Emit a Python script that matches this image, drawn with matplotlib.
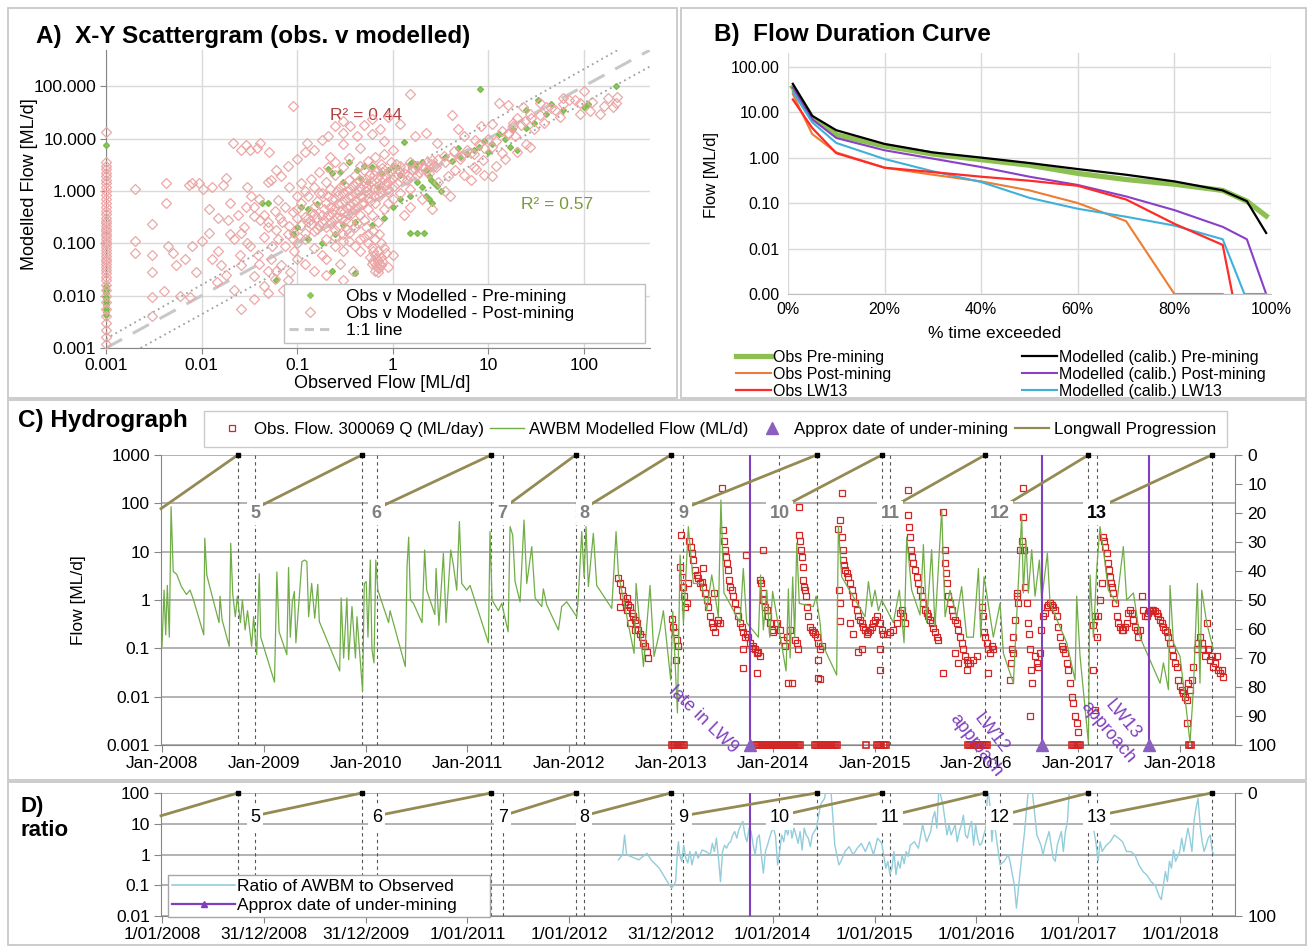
#!/usr/bin/env python3
"""Four-panel AWBM calibration figure: scatter, flow duration, hydrograph, ratio."""

import matplotlib
matplotlib.use("Agg")
import matplotlib.pyplot as plt
import numpy as np
from matplotlib.lines import Line2D
from matplotlib.patches import Rectangle
from matplotlib.ticker import NullLocator

plt.rcParams["font.family"] = ["Liberation Sans", "DejaVu Sans"]

# ---------------- A) scattergram data (ML/d) ----------------
# modelled flow on days with zero observed flow (drawn at obs = 0.001)
zero_obs_post_mod = [13.5, 3.5, 3.0, 2.6, 2.2, 1.9, 1.6, 1.4, 1.2, 1.0, 0.85, 0.7, 0.6, 0.5,
                     0.42, 0.36, 0.3, 0.27, 0.24, 0.21, 0.19, 0.17, 0.15, 0.135, 0.12, 0.105,
                     0.095, 0.085, 0.075, 0.066, 0.058, 0.051, 0.045, 0.04, 0.035, 0.031, 0.027,
                     0.023, 0.02, 0.016, 0.013, 0.01, 0.0075, 0.0055, 0.004, 0.003, 0.0022,
                     0.0016, 0.0012]
zero_obs_pre_mod = [7.5, 0.015, 0.013, 0.011, 0.0095, 0.0085, 0.0075, 0.0065, 0.0055, 0.0048,
                    0.0042]
scatter_post = [
    (0.002, 1.1), (0.002, 0.11), (0.002, 0.065), (0.003, 0.23), (0.003, 0.06), (0.003, 0.028),
    (0.003, 0.0095), (0.003, 0.004), (0.0042, 1.4), (0.0042, 0.6), (0.005, 0.065),
    (0.0054, 0.038), (0.006, 0.01), (0.0067, 0.05), (0.0073, 1.3), (0.008, 1.4), (0.008, 0.09),
    (0.0087, 0.028), (0.0095, 1.4), (0.01, 0.11), (0.0103, 1.1), (0.0075, 0.0095),
    (0.0045, 0.09), (0.004, 0.012), (0.013, 1.2), (0.0166, 1.3), (0.018, 1.8), (0.012, 0.16),
    (0.013, 0.05), (0.0145, 0.018), (0.016, 0.038), (0.019, 0.28), (0.0215, 8.2), (0.022, 0.12),
    (0.026, 6.1), (0.029, 7.5), (0.032, 6.1), (0.038, 6.5), (0.041, 8.2), (0.051, 5.6),
    (0.053, 1.6), (0.033, 0.8), (0.029, 0.5), (0.035, 0.33), (0.041, 0.28), (0.049, 0.2),
    (0.026, 0.16), (0.032, 0.088), (0.039, 0.06), (0.026, 0.038), (0.035, 0.024), (0.022, 0.013),
    (0.035, 0.0088), (0.026, 0.0056), (0.015, 0.07), (0.018, 0.025), (0.02, 0.6), (0.024, 0.35),
    (0.028, 0.2), (0.045, 0.13), (0.055, 0.09), (0.045, 0.015), (0.06, 0.03), (0.09, 41),
    (0.068, 1.9), (0.082, 1.2), (0.063, 0.68), (0.075, 0.5), (0.1, 0.45), (0.058, 0.42),
    (0.066, 0.3), (0.082, 0.21), (0.093, 0.16), (0.063, 0.12), (0.075, 0.088), (0.093, 0.07),
    (0.053, 0.05), (0.068, 0.038), (0.085, 0.028), (0.058, 0.021), (0.071, 0.013), (0.05, 0.011),
    (0.127, 8.2), (0.15, 6.1), (0.18, 9.5), (0.21, 11), (0.25, 17), (0.3, 13), (0.36, 17),
    (0.42, 11), (0.5, 18), (0.6, 24), (0.74, 15), (1.5, 72), (0.9, 26), (1.2, 19), (1.7, 11),
    (2.2, 13), (2.9, 8.2), (4.2, 28), (4.8, 15), (5.6, 11), (7.3, 9.5), (8.4, 17), (11, 19),
    (13, 47), (16, 44), (18, 17), (23, 40), (27, 30), (35, 47), (45, 38), (56, 26), (70, 54),
    (91, 47), (115, 33), (163, 41), (214, 47), (222, 63), (147, 30), (27, 7), (19, 11), (11, 7),
    (14, 5.3), (8.8, 3.9), (7, 2.9), (11, 1.9), (6.6, 5.3), (5.2, 4.6), (4.4, 5.7), (3.4, 4.6),
    (2.6, 3.9), (0.3, 8), (0.45, 6.5), (0.22, 4.5), (0.8, 9), (1.0, 6), (0.6, 12), (0.3, 22),
    (16, 12), (20, 25), (60, 60), (100, 80), (30, 15),
    (0.11, 0.6), (0.12, 0.32), (0.13, 0.25), (0.14, 0.4), (0.15, 0.5), (0.16, 0.3), (0.17, 0.22),
    (0.18, 0.35), (0.19, 0.45), (0.2, 0.6), (0.21, 0.8), (0.22, 0.5), (0.23, 0.38), (0.24, 0.28),
    (0.25, 0.7), (0.26, 1.0), (0.27, 0.55), (0.28, 0.42), (0.29, 0.3), (0.3, 0.9), (0.31, 1.3),
    (0.32, 0.65), (0.33, 0.48), (0.34, 0.36), (0.35, 1.6), (0.36, 1.1), (0.37, 0.8), (0.38, 0.6),
    (0.39, 0.45), (0.4, 2.0), (0.42, 1.4), (0.44, 1.0), (0.46, 0.75), (0.48, 0.55), (0.5, 2.5),
    (0.52, 1.7), (0.54, 1.2), (0.56, 0.9), (0.58, 0.65), (0.6, 3.0), (0.63, 2.0), (0.66, 1.5),
    (0.7, 1.1), (0.72, 0.8), (0.75, 3.3), (0.78, 2.3), (0.8, 1.7), (0.85, 1.3), (0.9, 0.95),
    (0.95, 3.5), (1.0, 2.6), (1.05, 1.9), (1.1, 1.4), (1.2, 3.0), (1.3, 2.2), (1.4, 1.6),
    (1.5, 3.5), (1.6, 2.5), (1.8, 2.0), (2.0, 3.0), (2.2, 2.4), (2.5, 3.3), (2.8, 2.8), (3.0, 4.0),
    (0.15, 1.2), (0.2, 1.5), (0.25, 2.0), (0.3, 2.8), (0.18, 0.9), (0.13, 0.8), (0.12, 1.0),
    (0.35, 0.25), (0.45, 0.35), (0.55, 0.45), (0.65, 0.6), (0.9, 0.6), (1.2, 0.9), (1.5, 1.1),
    (0.4, 0.2), (0.5, 0.28), (0.25, 0.18), (0.3, 0.15), (0.2, 0.2), (0.15, 0.17), (0.6, 0.35),
    (0.8, 0.45), (1.0, 0.7), (0.7, 0.25), (0.5, 0.13), (0.55, 0.1), (0.6, 0.085), (0.62, 0.07),
    (0.65, 0.06), (0.68, 0.05), (0.7, 0.045), (0.72, 0.04), (0.68, 0.035), (0.65, 0.03),
    (0.7, 0.028), (0.75, 0.038), (0.6, 0.04), (0.58, 0.055), (0.45, 0.07), (0.4, 0.09),
    (0.35, 0.11), (0.3, 0.07), (0.25, 0.09), (0.2, 0.05), (0.15, 0.08), (0.12, 0.12),
    (0.28, 0.04), (0.38, 0.03), (0.9, 0.035), (1.0, 0.06), (1.8, 3.0), (2.4, 2.2), (3.0, 1.5),
    (3.8, 1.9), (4.5, 2.5), (5.5, 2.0), (6.5, 1.6), (7.5, 2.6), (9, 2.0), (12, 3.0), (15, 4.0),
    (20, 5.5), (25, 8), (1.5, 0.5), (2.0, 0.7), (3.5, 1.0), (2.6, 0.45), (1.3, 0.35), (4, 0.8),
    (0.16, 0.65), (0.17, 0.9), (0.19, 0.28), (0.21, 0.35), (0.22, 1.1), (0.23, 0.7), (0.24, 0.45),
    (0.26, 0.32), (0.27, 0.85), (0.28, 1.2), (0.29, 0.6), (0.31, 0.4), (0.32, 0.28), (0.33, 1.0),
    (0.34, 0.75), (0.36, 0.52), (0.37, 0.38), (0.38, 1.3), (0.4, 0.95), (0.41, 0.68),
    (0.43, 0.5), (0.44, 1.6), (0.45, 1.2), (0.47, 0.85), (0.49, 0.62), (0.51, 1.4), (0.53, 1.0),
    (0.55, 0.72), (0.57, 2.0), (0.59, 1.5), (0.62, 1.1), (0.64, 0.8), (0.67, 2.4), (0.69, 1.8),
    (0.71, 1.3), (0.74, 0.95), (0.77, 2.7), (0.82, 2.0), (0.86, 1.5), (0.88, 1.1), (0.93, 2.3),
    (0.98, 1.7), (1.03, 1.25), (1.08, 3.2), (1.15, 2.4), (1.25, 1.8), (1.35, 2.7), (1.45, 2.0),
    (1.7, 2.6), (1.9, 2.3), (2.1, 2.8), (2.3, 3.6), (2.7, 3.0), (0.14, 0.23), (0.16, 0.19),
    (0.18, 0.26), (0.22, 0.24), (0.27, 0.21), (0.33, 0.19), (0.42, 0.24), (0.52, 0.2),
    (0.62, 0.17), (0.72, 0.15), (0.13, 0.3), (0.15, 0.36), (0.11, 0.22), (0.1, 0.3), (0.09, 0.4),
    (0.1, 0.8), (0.11, 1.4), (0.14, 1.7), (0.17, 2.3), (0.21, 2.9), (0.25, 3.5), (0.35, 4.2),
    (0.45, 3.0), (0.55, 3.8), (0.65, 4.4), (0.8, 5.0), (0.2, 0.12), (0.25, 0.13), (0.3, 0.11),
    (0.35, 0.16), (0.45, 0.12), (0.55, 0.15), (0.65, 0.12), (0.75, 0.1), (0.8, 0.08),
    (0.85, 0.065), (0.75, 0.055), (0.7, 0.07), (0.62, 0.045), (0.78, 0.045), (0.66, 0.038),
    (0.72, 0.033), (0.1, 0.1), (0.09, 0.12), (0.08, 0.15), (0.12, 0.16), (0.07, 0.25),
    (0.06, 0.18), (0.05, 0.25), (0.045, 0.35), (0.035, 0.5), (0.04, 0.7), (0.03, 1.2),
    (0.05, 1.5), (0.06, 2.5), (0.08, 3.0), (0.1, 4.0), (0.12, 5.5), (0.015, 0.3), (0.012, 0.45),
    (0.02, 0.15), (0.03, 0.1), (0.04, 0.04), (0.025, 0.06), (0.05, 0.03), (0.08, 0.02),
    (0.1, 0.05), (0.12, 0.04), (0.15, 0.03), (0.2, 0.025), (0.3, 0.02), (0.18, 0.06),
    (3.5, 3.5), (4, 4.2), (5, 4), (6, 6), (7, 5), (8, 8), (9, 6.5), (10, 10), (12, 9), (14, 14),
    (16, 13), (18, 20), (22, 18), (24, 22), (28, 25), (35, 28), (40, 40), (50, 35), (38, 20),
    (60, 45), (80, 55), (90, 30), (120, 50), (180, 60), (200, 40),
]
scatter_pre = [
    (0.043, 0.6), (0.05, 0.6), (0.11, 0.5), (0.13, 0.45), (0.16, 0.55), (0.21, 2.6), (0.23, 2.2),
    (0.28, 2.3), (0.3, 1.5), (0.35, 3.5), (0.42, 2.5), (0.5, 3.0), (0.6, 2.8), (0.75, 2.2),
    (0.9, 2.5), (1.0, 3.0), (1.2, 2.0), (1.1, 2.8), (1.3, 8.5), (1.5, 3.2), (1.6, 3.6), (1.7, 3.3),
    (1.8, 2.7), (2.0, 3.6), (2.2, 2.5), (2.4, 1.9), (2.5, 1.6), (2.7, 1.4), (2.9, 1.25),
    (3.2, 1.0), (1.8, 1.5), (2.0, 1.2), (2.2, 0.8), (2.4, 0.7), (2.6, 0.6), (1.5, 0.8),
    (1.2, 0.7), (1.0, 0.5), (0.8, 0.3), (0.6, 0.22), (0.4, 0.25), (0.3, 0.22), (0.25, 0.15),
    (0.18, 0.1), (0.13, 0.12), (0.1, 0.2), (0.09, 0.15), (1.5, 0.16), (1.8, 0.16), (2.1, 0.16),
    (0.23, 0.03), (0.4, 0.027), (0.06, 0.02), (4.2, 3.8), (5, 4.5), (6, 5), (7, 6), (8, 7),
    (9, 9), (10, 5.5), (11, 8), (13, 12), (15, 10), (17, 7), (20, 6), (18, 15), (25, 16),
    (30, 20), (33, 55), (40, 30), (45, 45), (60, 35), (100, 40), (110, 45), (214, 100),
    (8.2, 90), (25, 35), (3.5, 4.5), (4.8, 6.5), (0.7, 1.2), (0.55, 1.5), (0.45, 1.8),
]
trend_post = [(0.001, 0.0015), (490, 1090)]
trend_pre = [(0.0023, 0.001), (490, 238)]
one_to_one = [(0.001, 0.001), (490, 490)]

# ---------------- B) flow duration curves ----------------
pct_full = [1, 5, 10, 20, 30, 40, 50, 60, 70, 80, 90, 95, 99]
fdc_obs_pre = [35, 7.5, 3.2, 1.8, 1.2, 0.9, 0.68, 0.45, 0.33, 0.26, 0.19, 0.11, 0.052]
fdc_mod_pre = [42, 8.3, 4.0, 2.0, 1.3, 1.0, 0.76, 0.56, 0.42, 0.30, 0.19, 0.11, 0.022]
fdc_mod_post = [35, 7, 2.7, 1.45, 0.95, 0.62, 0.38, 0.25, 0.14, 0.07, 0.03, 0.016, 0.001]
pct_obs_post = [1, 5, 10, 20, 30, 40, 50, 60, 70, 80, 90]
fdc_obs_post = [25, 3.3, 1.3, 0.6, 0.42, 0.3, 0.19, 0.1, 0.04, 0.001, 0.001]
pct_obs_lw13 = [1, 5, 10, 20, 30, 40, 50, 60, 70, 80, 90, 92]
fdc_obs_lw13 = [19, 4.5, 1.25, 0.6, 0.48, 0.38, 0.31, 0.24, 0.12, 0.035, 0.012, 0.001]
pct_mod_lw13 = [1, 5, 10, 20, 30, 40, 50, 60, 70, 80, 90, 94.5, 99]
fdc_mod_lw13 = [28, 6, 2.1, 0.93, 0.5, 0.29, 0.13, 0.075, 0.05, 0.032, 0.016, 0.001, 0.001]

# ---------------- C) hydrograph (decimal year, ML/d) ----------------
awbm_pts = [
    (2008.000, 0.11), (2008.020, 1.6), (2008.036, 0.19), (2008.052, 2.0), (2008.072, 0.17),
    (2008.089, 85), (2008.110, 3.9), (2008.144, 3.4), (2008.190, 1.9), (2008.240, 1.3),
    (2008.275, 1.6), (2008.310, 1.0), (2008.410, 0.19), (2008.420, 19), (2008.440, 3.3),
    (2008.456, 2.4), (2008.560, 0.34), (2008.570, 1.2), (2008.590, 0.39), (2008.660, 0.11),
    (2008.675, 15), (2008.695, 1.3), (2008.720, 0.45), (2008.740, 1.2), (2008.770, 0.34),
    (2008.790, 1.0), (2008.816, 0.24), (2008.840, 0.6), (2008.880, 0.11), (2008.900, 0.45),
    (2008.930, 0.074), (2008.955, 3.5), (2008.970, 0.17), (2009.105, 0.02), (2009.128, 3.8),
    (2009.150, 0.22), (2009.226, 0.074), (2009.243, 4.7), (2009.260, 0.17), (2009.280, 0.92),
    (2009.300, 1.5), (2009.315, 0.13), (2009.374, 6.2), (2009.400, 6.7), (2009.423, 6.2),
    (2009.440, 0.45), (2009.470, 2.2), (2009.500, 0.42), (2009.530, 2.1), (2009.545, 0.36),
    (2009.745, 0.034), (2009.760, 1.1), (2009.784, 0.063), (2009.816, 1.1), (2009.833, 0.058),
    (2009.866, 0.73), (2009.900, 0.063), (2009.915, 0.45), (2009.970, 0.013), (2009.987, 2.2),
    (2010.006, 2.4), (2010.023, 0.17), (2010.046, 6.7), (2010.062, 0.095), (2010.082, 0.05),
    (2010.100, 6.7), (2010.120, 1.6), (2010.226, 0.34), (2010.240, 0.6), (2010.390, 0.042),
    (2010.407, 4.9), (2010.423, 20), (2010.440, 1.0), (2010.470, 0.85), (2010.554, 0.34),
    (2010.580, 10.8), (2010.600, 1.6), (2010.680, 0.5), (2010.692, 4.5), (2010.720, 0.3),
    (2010.764, 9.3), (2010.790, 0.34), (2010.836, 10.8), (2010.862, 5.3), (2010.895, 1.6),
    (2010.921, 42), (2010.944, 2.2), (2010.993, 1.6), (2011.026, 2.0), (2011.206, 0.13),
    (2011.222, 26), (2011.242, 1.0), (2011.304, 0.6), (2011.337, 0.85), (2011.400, 0.22),
    (2011.419, 33), (2011.445, 22), (2011.468, 2.4), (2011.517, 0.92), (2011.556, 45),
    (2011.583, 2.2), (2011.632, 12.7), (2011.665, 1.1), (2011.730, 0.73), (2011.746, 1.7),
    (2011.779, 0.79), (2011.894, 0.24), (2011.926, 0.73), (2011.975, 0.92), (2012.074, 0.45),
    (2012.090, 1.2), (2012.123, 26), (2012.146, 3.0), (2012.165, 33), (2012.188, 1.9),
    (2012.237, 24), (2012.270, 2.0), (2012.418, 0.67), (2012.460, 26), (2012.483, 3.5),
    (2012.637, 0.079), (2012.657, 2.2), (2012.729, 0.042), (2012.794, 2.0), (2012.833, 0.068),
    (2012.892, 0.24), (2012.925, 0.6), (2012.997, 0.022), (2013.017, 0.58), (2013.063, 0.0046),
    (2013.089, 8.5), (2013.122, 0.33), (2013.170, 33), (2013.220, 2.2), (2013.300, 2.2),
    (2013.350, 0.6), (2013.400, 3.3), (2013.465, 0.45), (2013.490, 117), (2013.520, 1.4),
    (2013.678, 0.34), (2013.710, 4.5), (2013.743, 0.34), (2013.858, 0.17), (2013.880, 3.3),
    (2013.907, 0.24), (2013.940, 1.6), (2013.970, 0.17), (2013.998, 1.5), (2014.130, 0.034),
    (2014.153, 1.7), (2014.170, 0.063), (2014.195, 3.0), (2014.215, 0.17), (2014.235, 15),
    (2014.260, 0.85), (2014.398, 0.73), (2014.425, 1.2), (2014.464, 0.34), (2014.480, 0.13),
    (2014.627, 0.028), (2014.644, 33), (2014.677, 3.0), (2014.906, 0.45), (2014.939, 2.4),
    (2014.971, 0.73), (2015.004, 1.6), (2015.037, 0.6), (2015.070, 1.0), (2015.184, 0.34),
    (2015.243, 1.6), (2015.289, 0.13), (2015.315, 20), (2015.364, 1.6), (2015.446, 0.49),
    (2015.479, 14), (2015.511, 0.34), (2015.560, 11), (2015.593, 0.28), (2015.659, 73),
    (2015.692, 0.45), (2015.741, 1.6), (2015.806, 0.45), (2015.855, 1.9), (2015.904, 0.17),
    (2015.970, 0.17), (2016.020, 4.5), (2016.042, 0.17), (2016.075, 3.0), (2016.100, 1.4),
    (2016.166, 0.17), (2016.232, 0.85), (2016.265, 0.079), (2016.363, 0.019), (2016.445, 58),
    (2016.461, 1.4), (2016.487, 17), (2016.510, 1.4), (2016.543, 11), (2016.576, 1.2),
    (2016.618, 6.7), (2016.641, 1.0), (2016.697, 9.3), (2016.723, 0.85), (2016.887, 0.13),
    (2016.969, 0.022), (2016.985, 1.2), (2017.018, 0.068), (2017.100, 0.0011), (2017.116, 3.3),
    (2017.149, 0.17), (2017.181, 4.2), (2017.214, 33), (2017.247, 11), (2017.296, 1.6),
    (2017.378, 0.85), (2017.443, 12.7), (2017.476, 1.0), (2017.542, 1.4), (2017.607, 0.17),
    (2017.804, 0.019), (2017.837, 0.05), (2017.886, 0.014), (2017.902, 2.0), (2017.935, 0.13),
    (2018.000, 0.068), (2018.066, 0.0046), (2018.098, 0.0011), (2018.131, 0.014),
    (2018.170, 2.2), (2018.196, 0.019), (2018.213, 1.6), (2018.262, 0.34), (2018.327, 0.095),
]
obs_pts = [
    (2012.483, 2.8), (2012.499, 2.2), (2012.499, 0.72), (2012.516, 1.6), (2012.532, 1.2),
    (2012.549, 0.92), (2012.565, 1.1), (2012.565, 0.62), (2012.581, 0.79), (2012.598, 0.72),
    (2012.598, 0.34), (2012.614, 0.53), (2012.630, 0.46), (2012.647, 0.39), (2012.647, 0.24),
    (2012.663, 0.34), (2012.680, 0.24), (2012.696, 0.20), (2012.712, 0.17), (2012.729, 0.13),
    (2012.745, 0.11), (2012.761, 0.085), (2012.778, 0.063), (2013.007, 0.41), (2013.024, 0.28),
    (2013.040, 0.22), (2013.050, 0.057), (2013.056, 0.15), (2013.073, 0.11), (2013.089, 4.9),
    (2013.095, 22), (2013.105, 3.0), (2013.122, 1.9), (2013.128, 1.2), (2013.138, 0.72),
    (2013.154, 0.85), (2013.170, 2.2), (2013.180, 17), (2013.193, 12.7), (2013.203, 9.3),
    (2013.220, 6.7), (2013.236, 4.2), (2013.253, 3.3), (2013.269, 2.8), (2013.285, 2.2),
    (2013.301, 2.4), (2013.318, 1.9), (2013.318, 4.5), (2013.334, 1.4), (2013.350, 1.0),
    (2013.367, 0.72), (2013.383, 0.46), (2013.400, 0.34), (2013.416, 0.28), (2013.420, 1.4),
    (2013.432, 0.22), (2013.449, 0.34), (2013.465, 0.39), (2013.481, 0.34), (2013.504, 204),
    (2013.514, 28), (2013.521, 17), (2013.531, 10.9), (2013.540, 7.9), (2013.547, 5.8),
    (2013.563, 4.2), (2013.573, 2.6), (2013.580, 1.9), (2013.596, 1.6), (2013.612, 1.2),
    (2013.629, 0.85), (2013.645, 0.62), (2013.662, 0.46), (2013.678, 0.34), (2013.694, 0.28),
    (2013.704, 0.039), (2013.711, 0.22), (2013.711, 0.095), (2013.727, 0.17), (2013.737, 8.5),
    (2013.743, 0.20), (2013.760, 0.17), (2013.776, 0.13), (2013.793, 0.10), (2013.809, 0.11),
    (2013.825, 0.095), (2013.842, 0.08), (2013.842, 0.031), (2013.858, 0.085), (2013.874, 0.068),
    (2013.874, 2.6), (2013.884, 2.2), (2013.900, 1.4), (2013.907, 10.9), (2013.907, 1.0),
    (2013.923, 0.72), (2013.940, 0.62), (2013.956, 0.46), (2013.973, 0.34), (2013.989, 0.24),
    (2014.005, 0.22), (2014.038, 0.34), (2014.071, 0.24), (2014.104, 0.15), (2014.120, 0.11),
    (2014.136, 0.17), (2014.153, 0.019), (2014.169, 0.24), (2014.185, 0.019), (2014.218, 0.15),
    (2014.235, 0.13), (2014.251, 0.095), (2014.258, 85), (2014.261, 22), (2014.267, 17),
    (2014.277, 10.9), (2014.284, 7.9), (2014.293, 4.9), (2014.300, 2.6), (2014.307, 1.9),
    (2014.316, 1.6), (2014.326, 1.2), (2014.333, 0.72), (2014.349, 0.46), (2014.366, 0.28),
    (2014.382, 0.24), (2014.398, 0.22), (2014.415, 0.20), (2014.431, 0.17), (2014.447, 0.13),
    (2014.447, 0.058), (2014.447, 0.024), (2014.464, 0.095), (2014.464, 0.023), (2014.480, 0.11),
    (2014.644, 30), (2014.650, 1.6), (2014.660, 45), (2014.660, 0.85), (2014.660, 0.36),
    (2014.677, 20), (2014.677, 161), (2014.686, 10.9), (2014.693, 6.7), (2014.700, 5.3),
    (2014.709, 4.2), (2014.726, 3.6), (2014.742, 3.0), (2014.758, 2.2), (2014.758, 0.34),
    (2014.775, 1.6), (2014.791, 1.2), (2014.791, 0.20), (2014.808, 0.85), (2014.824, 0.62),
    (2014.840, 0.46), (2014.840, 0.085), (2014.857, 0.39), (2014.873, 0.34), (2014.873, 0.095),
    (2014.890, 0.28), (2014.906, 0.24), (2014.922, 0.20), (2014.939, 0.22), (2014.955, 0.24),
    (2014.971, 0.28), (2014.988, 0.34), (2015.004, 0.39), (2015.020, 0.46), (2015.053, 0.34),
    (2015.053, 0.036), (2015.053, 0.095), (2015.070, 0.24), (2015.086, 0.20), (2015.119, 0.20),
    (2015.151, 0.22), (2015.184, 0.24), (2015.217, 0.34), (2015.250, 0.53), (2015.266, 0.62),
    (2015.282, 0.46), (2015.299, 0.34), (2015.332, 57), (2015.332, 190), (2015.341, 33),
    (2015.348, 20), (2015.358, 10.9), (2015.364, 7.9), (2015.381, 5.8), (2015.397, 4.2),
    (2015.413, 3.0), (2015.430, 2.2), (2015.446, 1.6), (2015.462, 1.2), (2015.479, 0.85),
    (2015.495, 0.62), (2015.512, 0.53), (2015.528, 0.46), (2015.544, 0.39), (2015.560, 0.34),
    (2015.577, 0.26), (2015.593, 0.22), (2015.610, 0.17), (2015.626, 0.15), (2015.675, 67),
    (2015.675, 0.031), (2015.692, 10.9), (2015.692, 5.8), (2015.701, 3.6), (2015.708, 2.2),
    (2015.724, 1.2), (2015.741, 0.85), (2015.757, 0.62), (2015.774, 0.46), (2015.790, 0.39),
    (2015.790, 0.08), (2015.806, 0.34), (2015.823, 0.24), (2015.823, 0.05), (2015.839, 0.17),
    (2015.855, 0.13), (2015.872, 0.095), (2015.888, 0.068), (2015.904, 0.058), (2015.904, 0.036),
    (2015.921, 0.05), (2015.937, 0.05), (2015.970, 0.058), (2016.003, 0.068), (2016.052, 0.72),
    (2016.068, 0.46), (2016.075, 0.22), (2016.085, 0.17), (2016.101, 0.13), (2016.117, 0.095),
    (2016.117, 0.031), (2016.134, 0.08), (2016.150, 0.11), (2016.166, 0.095), (2016.330, 0.022),
    (2016.337, 0.05), (2016.347, 0.095), (2016.356, 0.08), (2016.363, 0.17), (2016.379, 0.39),
    (2016.396, 1.2), (2016.402, 1.4), (2016.412, 0.85), (2016.428, 10.9), (2016.445, 17),
    (2016.455, 204), (2016.461, 53), (2016.468, 10.9), (2016.478, 1.9), (2016.494, 0.85),
    (2016.510, 0.34), (2016.520, 0.20), (2016.527, 0.095), (2016.527, 0.0039), (2016.533, 0.036),
    (2016.543, 0.019), (2016.576, 0.068), (2016.592, 0.05), (2016.608, 0.042), (2016.625, 0.08),
    (2016.635, 0.24), (2016.651, 0.46), (2016.674, 0.53), (2016.690, 0.72), (2016.707, 0.79),
    (2016.723, 0.85), (2016.740, 0.79), (2016.756, 0.72), (2016.772, 0.62), (2016.789, 0.46),
    (2016.805, 0.28), (2016.821, 0.17), (2016.838, 0.11), (2016.854, 0.095), (2016.870, 0.08),
    (2016.887, 0.05), (2016.903, 0.036), (2016.920, 0.019), (2016.936, 0.01), (2016.952, 0.0073),
    (2016.969, 0.0039), (2016.985, 0.0028), (2017.001, 0.0019), (2017.149, 0.035),
    (2017.149, 0.30), (2017.165, 0.0053), (2017.165, 0.46), (2017.182, 0.17), (2017.198, 0.46),
    (2017.214, 1.0), (2017.231, 2.2), (2017.247, 20), (2017.257, 17), (2017.267, 12.7),
    (2017.280, 9.3), (2017.290, 5.8), (2017.300, 4.2), (2017.313, 3.0), (2017.322, 2.2),
    (2017.332, 1.9), (2017.345, 1.4), (2017.362, 0.85), (2017.378, 0.46), (2017.394, 0.34),
    (2017.411, 0.28), (2017.427, 0.24), (2017.443, 0.24), (2017.460, 0.28), (2017.476, 0.34),
    (2017.493, 0.53), (2017.509, 0.62), (2017.525, 0.53), (2017.542, 0.39), (2017.558, 0.28),
    (2017.574, 0.24), (2017.591, 0.17), (2017.607, 0.24), (2017.624, 1.2), (2017.640, 0.62),
    (2017.656, 0.46), (2017.673, 0.46), (2017.689, 0.53), (2017.705, 0.58), (2017.722, 0.62),
    (2017.738, 0.62), (2017.755, 0.58), (2017.771, 0.53), (2017.787, 0.46), (2017.804, 0.39),
    (2017.820, 0.34), (2017.836, 0.28), (2017.853, 0.24), (2017.869, 0.22), (2017.886, 0.17),
    (2017.902, 0.13), (2017.918, 0.095), (2017.935, 0.068), (2017.951, 0.05), (2017.967, 0.042),
    (2017.984, 0.022), (2018.000, 0.017), (2018.016, 0.014), (2018.033, 0.012), (2018.049, 0.01),
    (2018.066, 0.0085), (2018.066, 0.0028), (2018.082, 0.019), (2018.098, 0.014),
    (2018.115, 0.022), (2018.131, 0.042), (2018.164, 0.095), (2018.180, 0.13), (2018.196, 0.17),
    (2018.213, 0.13), (2018.229, 0.095), (2018.245, 0.068), (2018.262, 0.34), (2018.278, 0.095),
    (2018.295, 0.058), (2018.311, 0.068), (2018.327, 0.042), (2018.344, 0.05), (2018.360, 0.068),
    (2018.376, 0.036), (2018.393, 0.031), (2018.409, 0.036), (2018.426, 0.026),
]
# days with zero observed flow (plotted on the 0.001 axis)
obs_zero_yr = [2013.01, 2013.03, 2013.05, 2013.07, 2013.09, 2013.11, 2013.13,
               2013.83, 2013.85, 2013.87, 2013.89, 2013.91, 2013.93, 2013.95, 2013.97, 2013.99,
               2014.01, 2014.03, 2014.05, 2014.07, 2014.09, 2014.11, 2014.13, 2014.15, 2014.17,
               2014.19, 2014.21, 2014.23, 2014.25, 2014.27, 2014.41, 2014.43, 2014.45, 2014.47,
               2014.49, 2014.51, 2014.53, 2014.55, 2014.57, 2014.59, 2014.61, 2014.63, 2014.92,
               2015.02, 2015.04, 2015.06, 2015.09, 2015.11, 2015.92, 2015.94, 2015.96, 2015.98,
               2016.00, 2016.02, 2016.04, 2016.06, 2016.08, 2016.10, 2016.94, 2016.96, 2016.98,
               2017.00, 2017.02, 2018.09, 2018.11]

# longwall panels: start/end of extraction (decimal year)
lw_num = [4, 5, 6, 7, 8, 9, 10, 11, 12, 13]
lw_start_yr = [2007.99, 2008.914, 2010.109, 2011.347, 2012.145, 2013.121, 2014.065, 2015.15,
               2016.23, 2017.18]
lw_end_yr = [2008.744, 2009.962, 2011.232, 2012.063, 2012.997, 2014.43, 2015.07, 2016.085,
             2017.10, 2018.31]
lw_start_level = 18.5
undermine_yr = [2013.776, 2016.641, 2017.699]

# ---------------- D) ratio of AWBM to observed ----------------
ratio_pts = [
    (2012.483, 0.67), (2012.524, 0.98), (2012.544, 4.3), (2012.564, 0.98), (2012.604, 0.86),
    (2012.644, 0.76), (2012.684, 0.67), (2012.724, 0.86), (2012.764, 1.1), (2012.804, 0.67),
    (2012.884, 0.36), (2012.965, 0.13), (2013.005, 0.08), (2013.025, 0.1), (2013.045, 0.13),
    (2013.065, 1.6), (2013.073, 2.6), (2013.085, 0.98), (2013.105, 0.6), (2013.125, 2.0),
    (2013.145, 0.76), (2013.165, 0.53), (2013.185, 1.25), (2013.205, 0.46), (2013.225, 0.86),
    (2013.245, 1.25), (2013.265, 0.76), (2013.285, 0.98), (2013.305, 1.4), (2013.345, 1.25),
    (2013.385, 0.98), (2013.406, 2.3), (2013.426, 1.25), (2013.446, 3.4), (2013.466, 0.76),
    (2013.486, 0.13), (2013.506, 1.25), (2013.526, 2.0), (2013.546, 1.6), (2013.566, 2.3),
    (2013.586, 2.6), (2013.606, 4.3), (2013.626, 5.6), (2013.646, 3.4), (2013.666, 6.3),
    (2013.686, 9.2), (2013.706, 12), (2013.726, 4.3), (2013.746, 2.6), (2013.767, 7.2),
    (2013.787, 5.6), (2013.807, 2.0), (2013.827, 0.98), (2013.847, 3.4), (2013.867, 4.3),
    (2013.887, 0.98), (2013.907, 0.25), (2013.927, 1.25), (2013.947, 2.0), (2013.967, 3.4),
    (2013.987, 5.6), (2014.007, 7.2), (2014.027, 3.9), (2014.047, 0.46), (2014.067, 1.25),
    (2014.087, 4.3), (2014.107, 2.6), (2014.127, 7.2), (2014.147, 4.3), (2014.168, 12),
    (2014.188, 3.4), (2014.208, 7.2), (2014.228, 4.3), (2014.248, 2.3), (2014.268, 5.6),
    (2014.288, 1.4), (2014.308, 7.2), (2014.328, 4.3), (2014.348, 3.4), (2014.368, 1.8),
    (2014.388, 4.3), (2014.428, 7.2), (2014.468, 41), (2014.508, 67), (2014.529, 150),
    (2014.569, 150), (2014.609, 2.0), (2014.649, 0.46), (2014.669, 0.6), (2014.709, 1.25),
    (2014.749, 1.8), (2014.789, 0.98), (2014.829, 1.6), (2014.869, 2.3), (2014.909, 1.25),
    (2014.949, 2.6), (2014.989, 0.98), (2015.029, 3.4), (2015.07, 2.3), (2015.11, 0.36),
    (2015.13, 0.6), (2015.15, 0.22), (2015.17, 0.36), (2015.19, 1.25), (2015.21, 0.22),
    (2015.23, 0.6), (2015.25, 0.36), (2015.27, 0.98), (2015.29, 0.5), (2015.31, 1.25),
    (2015.33, 0.86), (2015.35, 2.0), (2015.39, 2.6), (2015.43, 1.6), (2015.471, 9.2),
    (2015.511, 2.6), (2015.551, 5.6), (2015.571, 15), (2015.591, 25), (2015.611, 7.2),
    (2015.631, 150), (2015.671, 41), (2015.711, 4.3), (2015.731, 9.2), (2015.751, 4.3),
    (2015.791, 9.2), (2015.811, 2.6), (2015.832, 5.6), (2015.852, 9.2), (2015.872, 19),
    (2015.892, 4.3), (2015.912, 3.4), (2015.932, 7.2), (2015.952, 12), (2015.972, 2.0),
    (2015.992, 9.2), (2016.012, 3.4), (2016.032, 2.0), (2016.052, 2.3), (2016.072, 4.3),
    (2016.092, 7.2), (2016.112, 150), (2016.132, 41), (2016.152, 2.6), (2016.172, 15),
    (2016.192, 4.3), (2016.232, 0.46), (2016.272, 0.6), (2016.313, 0.98), (2016.333, 0.53),
    (2016.353, 0.22), (2016.373, 0.1), (2016.393, 0.018), (2016.413, 0.08), (2016.433, 0.36),
    (2016.473, 5.6), (2016.493, 32), (2016.513, 150), (2016.545, 150), (2016.574, 19),
    (2016.594, 4.3), (2016.634, 2.0), (2016.654, 0.98), (2016.674, 2.0), (2016.714, 5.6),
    (2016.754, 0.76), (2016.774, 0.6), (2016.794, 2.0), (2016.834, 5.6), (2016.854, 1.25),
    (2016.874, 5.6), (2016.894, 12), (2016.914, 150), (2016.934, float("nan")),
    (2017.155, 5.6), (2017.175, 2.3), (2017.195, 0.6), (2017.215, 2.6), (2017.235, 1.25),
    (2017.255, 1.6), (2017.275, 2.0), (2017.315, 2.6), (2017.355, 4.3), (2017.395, 3.4),
    (2017.435, 2.6), (2017.475, 1.25), (2017.516, 1.25), (2017.556, 0.98), (2017.596, 0.46),
    (2017.636, 0.28), (2017.676, 0.21), (2017.716, 0.13), (2017.756, 0.1), (2017.796, 0.044),
    (2017.816, 0.034), (2017.856, 0.28), (2017.876, 0.13), (2017.896, 0.6), (2017.916, 0.36),
    (2017.936, 1.4), (2017.956, 0.6), (2017.997, 1.25), (2018.017, 3.4), (2018.037, 1.25),
    (2018.077, 7.2), (2018.097, 3.4), (2018.117, 1.25), (2018.137, 12), (2018.157, 32),
    (2018.177, 67), (2018.197, 9.2), (2018.217, 2.6), (2018.237, 1.25), (2018.277, 3.4),
    (2018.297, 4.3), (2018.317, 1.25), (2018.337, 0.98),
]

c_xtick_labels = ["Jan-2008", "Jan-2009", "Jan-2010", "Jan-2011", "Jan-2012", "Jan-2013",
                  "Jan-2014", "Jan-2015", "Jan-2016", "Jan-2017", "Jan-2018"]
d_xtick_labels = ["1/01/2008", "31/12/2008", "31/12/2009", "1/01/2011", "1/01/2012",
                  "31/12/2012", "1/01/2014", "1/01/2015", "1/01/2016", "1/01/2017", "1/01/2018"]

# ---------------- styling ----------------
W, H = 1314, 946
GREEN_OBS = "#8CC152"
GREEN_PT = "#8CC75C"
PINK = "#EBA7A7"
PURPLE = "#7F3FBF"
OLIVE = "#948A54"
GRID_LIGHT = "#D9D9D9"
GRID_DARK = "#A6A6A6"
AXIS = "#868686"


def box(l, t, r, b):
    return [l / W, 1 - b / H, (r - l) / W, (b - t) / H]


def yr2d(y):
    return (np.asarray(y, dtype=float) - 2008.0) * 365.25


def unzip(pts):
    a = np.array(pts, dtype=float)
    return a[:, 0], a[:, 1]


def style_spines(ax, keep):
    for side, sp in ax.spines.items():
        sp.set_visible(side in keep)
        sp.set_color(AXIS)


fig = plt.figure(figsize=(W / 100, H / 100), dpi=100)

# panel frames
for l, t, r, b in [(8, 8, 677, 398), (681, 8, 1306, 398), (8, 400, 1306, 780), (8, 782, 1306, 945)]:
    fig.add_artist(Rectangle((l / W, 1 - b / H), (r - l) / W, (b - t) / H, transform=fig.transFigure,
                             fill=False, ec="#C8C8C8", lw=1.3))

# ================= A =================
axa = fig.add_axes(box(106, 50, 650, 348))
axa.set_xscale("log")
axa.set_yscale("log")
axa.set_xlim(0.001, 490)
axa.set_ylim(0.001, 490)
decades = [0.001, 0.01, 0.1, 1, 10, 100]
axa.set_xticks(decades)
axa.set_xticklabels(["0.001", "0.01", "0.1", "1", "10", "100"])
axa.set_yticks(decades)
axa.set_yticklabels(["0.001", "0.010", "0.100", "1.000", "10.000", "100.000"])
axa.xaxis.set_minor_locator(NullLocator())
axa.yaxis.set_minor_locator(NullLocator())
axa.grid(True, color=GRID_LIGHT, lw=1.0)
axa.set_axisbelow(True)
style_spines(axa, ("left", "bottom"))
axa.tick_params(labelsize=12.5, length=4, color=AXIS, pad=3)

tx, ty = unzip(trend_post)
axa.plot(tx, ty, color="#A0A0A0", lw=1.3, ls=(0, (1, 2)), zorder=2)
tx, ty = unzip(trend_pre)
axa.plot(tx, ty, color="#A0A0A0", lw=1.3, ls=(0, (1, 2)), zorder=2)
ox, oy = unzip(one_to_one)
axa.plot(ox, oy, color="#C8C8C8", lw=2.2, ls=(0, (6, 4)), zorder=2)

gx, gy = unzip(scatter_pre)
axa.plot(gx, gy, ls="none", marker="D", ms=3.0, color=GREEN_PT, mec="#7DBA4C", zorder=3)
axa.plot(np.full(len(zero_obs_pre_mod), 0.001), zero_obs_pre_mod, ls="none", marker="D", ms=3.0,
         color=GREEN_PT, mec="#7DBA4C", zorder=3, clip_on=False)
sx, sy = unzip(scatter_post)
axa.plot(sx, sy, ls="none", marker="D", ms=5, mfc="none", mec=PINK, mew=0.9, zorder=4)
axa.plot(np.full(len(zero_obs_post_mod), 0.001), zero_obs_post_mod, ls="none", marker="D", ms=5,
         mfc="none", mec=PINK, mew=0.9, zorder=4, clip_on=False)

axa.text(0.52, 27, "R² = 0.44", color="#B04040", fontsize=12.5, ha="center", va="center")
axa.text(52, 0.55, "R² = 0.57", color="#7A9A3A", fontsize=12.5, ha="center", va="center")

a_handles = [
    Line2D([], [], ls="none", marker="D", ms=3.0, color=GREEN_PT),
    Line2D([], [], ls="none", marker="D", ms=5, mfc="none", mec=PINK, mew=0.9),
    Line2D([], [], color="#C8C8C8", lw=2.2, ls=(0, (3, 2))),
]
leg = axa.legend(a_handles, ["Obs v Modelled - Pre-mining", "Obs v Modelled - Post-mining", "1:1 line"],
                 loc="lower left", bbox_to_anchor=(0.327, 0.017, 0.664, 0.2), mode="expand",
                 fontsize=12.5, frameon=True, fancybox=False, edgecolor="#BFBFBF", framealpha=1,
                 borderpad=0.3, labelspacing=0.1, handlelength=2.4, handletextpad=0.9,
                 borderaxespad=0)
leg.get_frame().set_linewidth(1.0)
leg.set_zorder(6)

fig.text(36 / W, 1 - 37 / H, "A)  X-Y Scattergram (obs. v modelled)", fontsize=17.5,
         fontweight="bold", va="center", ha="left")
fig.text(382 / W, 1 - 384 / H, "Observed Flow [ML/d]", fontsize=13, ha="center", va="center")
fig.text(30 / W, 1 - 184 / H, "Modelled Flow [ML/d]", fontsize=13, ha="center", va="center",
         rotation=90)

# ================= B =================
axb = fig.add_axes(box(788, 53, 1271, 294))
axb.set_yscale("log")
axb.set_ylim(0.001, 200)
axb.set_xlim(0, 100)
axb.set_yticks([0.001, 0.01, 0.1, 1, 10, 100])
axb.set_yticklabels(["0.00", "0.01", "0.10", "1.00", "10.00", "100.00"])
axb.set_xticks([0, 20, 40, 60, 80, 100])
axb.set_xticklabels(["0%", "20%", "40%", "60%", "80%", "100%"])
axb.yaxis.set_minor_locator(NullLocator())
axb.grid(True, color=GRID_LIGHT, lw=1.0)
axb.set_axisbelow(True)
style_spines(axb, ("bottom",))
axb.spines["bottom"].set_color("#BFBFBF")
axb.tick_params(labelsize=11.5, length=0, pad=6)

axb.plot(pct_full, fdc_obs_pre, color=GREEN_OBS, lw=3.8, label="Obs Pre-mining", zorder=3)
axb.plot(pct_full, fdc_mod_pre, color="black", lw=1.6, label="Modelled (calib.) Pre-mining", zorder=4)
axb.plot(pct_obs_post, fdc_obs_post, color="#ED7D31", lw=1.5, label="Obs Post-mining", zorder=3)
axb.plot(pct_full, fdc_mod_post, color="#8A3FC8", lw=1.5, label="Modelled (calib.) Post-mining",
         zorder=3)
axb.plot(pct_obs_lw13, fdc_obs_lw13, color="#FF2A2A", lw=1.6, label="Obs LW13", zorder=4)
axb.plot(pct_mod_lw13, fdc_mod_lw13, color="#3FB0DA", lw=1.5, label="Modelled (calib.) LW13", zorder=3)

hb, lb = axb.get_legend_handles_labels()
order = ["Obs Pre-mining", "Obs Post-mining", "Obs LW13", "Modelled (calib.) Pre-mining",
         "Modelled (calib.) Post-mining", "Modelled (calib.) LW13"]
hmap = dict(zip(lb, hb))
fig.legend([hmap[k] for k in order], order, loc="upper left", bbox_to_anchor=(728 / W, 1 - 342 / H),
           ncol=2, fontsize=11.5, frameon=False, borderpad=0, labelspacing=0.12, handlelength=2.2,
           handletextpad=0.1, columnspacing=8.2)

fig.text(714 / W, 1 - 35 / H, "B)  Flow Duration Curve", fontsize=17.5, fontweight="bold",
         va="center")
fig.text(711 / W, 1 - 175 / H, "Flow [ML/d]", fontsize=12, ha="center", va="center", rotation=90)
fig.text(995 / W, 1 - 333 / H, "% time exceeded", fontsize=12.5, ha="center", va="center")

# ================= C & D shared bits =================
x_lo, x_hi = yr2d(2007.99), yr2d(2018.54)
tick_days = np.arange(11) * 365.25
lw_lines_days = sorted(list(yr2d(lw_end_yr)) + list(yr2d(lw_start_yr[1:])))


def longwall_overlay(ax, twin, label_color, bold_last, label_weight, triangles):
    for d in lw_lines_days:
        ax.axvline(d, color="#555555", lw=0.8, ls=(0, (3, 3)), zorder=2)
    for i, n in enumerate(lw_num):
        s, e = yr2d(lw_start_yr[i]), yr2d(lw_end_yr[i])
        twin.plot([s, e], [lw_start_level, 0], color=OLIVE, lw=2.0, zorder=3, clip_on=False)
        twin.plot([e], [0], ls="none", marker="s", ms=2.5, color="black", zorder=3, clip_on=False)
        if n == lw_num[0]:
            continue
        is_last = bold_last and n == lw_num[-1]
        twin.text(s, 20, str(n), ha="center", va="center", fontsize=13,
                  fontweight="bold" if (label_weight == "bold" or is_last) else "normal",
                  color="black" if is_last else label_color, zorder=5,
                  bbox=dict(fc="white", ec="none", pad=2.5))
    for yv in triangles:
        ax.axvline(yr2d(yv), color=PURPLE, lw=1.5, zorder=5)


def setup_time_axis(ax, labels):
    ax.set_xlim(x_lo, x_hi)
    ax.set_xticks(tick_days)
    ax.set_xticklabels(labels)
    ax.set_yscale("log")
    ax.yaxis.set_minor_locator(NullLocator())
    ax.grid(axis="y", color=GRID_DARK, lw=1.2)
    ax.set_axisbelow(True)
    style_spines(ax, ("left", "bottom"))
    ax.tick_params(labelsize=12.5, length=5, color=AXIS, pad=3)


def setup_right(twin, ticks):
    twin.set_ylim(100, 0)
    twin.set_yticks(ticks)
    twin.yaxis.set_minor_locator(NullLocator())
    style_spines(twin, ("right",))
    twin.tick_params(labelsize=12.5, length=5, color=AXIS, pad=4)


# ================= C =================
axc = fig.add_axes(box(161, 455, 1235, 745))
setup_time_axis(axc, c_xtick_labels)
axc.set_ylim(0.001, 1000)
axc.set_yticks([0.001, 0.01, 0.1, 1, 10, 100, 1000])
axc.set_yticklabels(["0.001", "0.01", "0.1", "1", "10", "100", "1000"])
axc2 = axc.twinx()
setup_right(axc2, list(range(0, 101, 10)))

oyr, oq = unzip(obs_pts)
axc.plot(yr2d(oyr), oq, ls="none", marker="s", ms=4.6, mfc="none", mec="#D42424", mew=0.9,
         zorder=3, clip_on=False)
axc.plot(yr2d(obs_zero_yr), np.full(len(obs_zero_yr), 0.001), ls="none", marker="s", ms=4.3,
         mfc="none", mec="#D42424", mew=1.2, zorder=3, clip_on=False)
ayr, aq = unzip(awbm_pts)
axc.plot(yr2d(ayr), aq, color="#70AD47", lw=0.9, zorder=4)

longwall_overlay(axc, axc2, "#7F7F7F", True, "bold", undermine_yr)
axc.plot(yr2d(undermine_yr), np.full(len(undermine_yr), 0.001), ls="none", marker="^", ms=9,
         color="#8B5FBF", zorder=6, clip_on=False)

note_kw = dict(color=PURPLE, fontsize=13, ha="center", va="center", rotation_mode="anchor",
               multialignment="center", zorder=6)
axc.text(yr2d(2013.32), 0.0033, "late in LW9", rotation=-44, **note_kw)
axc.text(yr2d(2016.07), 0.0013, "LW12\napproach", rotation=-52, clip_on=False, **note_kw)
axc.text(yr2d(2017.36), 0.0025, "LW13\napproach", rotation=-50, **note_kw)

fig.text(18 / W, 1 - 420 / H, "C) Hydrograph", fontsize=17.5, fontweight="bold", va="center")
fig.text(78 / W, 1 - 600 / H, "Flow [ML/d]", fontsize=12.5, ha="center", va="center", rotation=90)

c_handles = [
    Line2D([], [], ls="none", marker="s", ms=4.3, mfc="none", mec="#D42424", mew=0.9),
    Line2D([], [], color="#70AD47", lw=1.0),
    Line2D([], [], ls="none", marker="^", ms=9, color="#8B5FBF"),
    Line2D([], [], color=OLIVE, lw=1.6),
]
cl = fig.legend(c_handles, ["Obs. Flow. 300069 Q (ML/day)", "AWBM Modelled Flow (ML/d)",
                            "Approx date of under-mining", "Longwall Progression"],
                loc="upper left", bbox_to_anchor=(196 / W, 1 - 403 / H), ncol=4, fontsize=12.2,
                frameon=True, fancybox=False, edgecolor="#BFBFBF", borderpad=0.6, handlelength=2.0,
                handletextpad=0.3, columnspacing=0.4)
cl.get_frame().set_linewidth(1.0)

# ================= D =================
axd = fig.add_axes(box(161, 793, 1235, 916))
setup_time_axis(axd, d_xtick_labels)
axd.set_ylim(0.01, 100)
axd.set_yticks([0.01, 0.1, 1, 10, 100])
axd.set_yticklabels(["0.01", "0.1", "1", "10", "100"])
axd2 = axd.twinx()
setup_right(axd2, [0, 100])

ryr, rv = unzip(ratio_pts)
axd.plot(yr2d(ryr), rv, color="#92CDDC", lw=1.0, zorder=3)
longwall_overlay(axd, axd2, "black", False, "normal", undermine_yr[:1])

d_handles = [
    Line2D([], [], color="#92CDDC", lw=1.2),
    Line2D([], [], color=PURPLE, lw=1.6, marker="^", ms=5),
]
dl = axd.legend(d_handles, ["Ratio of AWBM to Observed", "Approx date of under-mining"],
                loc="lower left", bbox_to_anchor=(0.0065, -0.008, 0.30, 0.4), mode="expand",
                fontsize=12.5, frameon=True, fancybox=False, edgecolor="#A6A6A6", framealpha=1,
                borderpad=0.25, labelspacing=0.2, handlelength=3.6, handletextpad=0.15,
                borderaxespad=0)
dl.get_frame().set_linewidth(1.0)
dl.set_zorder(7)

fig.text(20 / W, 1 - 796 / H, "D)\nratio", fontsize=16, fontweight="bold", va="top", ha="left",
         linespacing=1.2)

fig.savefig("out.png", dpi=100)
